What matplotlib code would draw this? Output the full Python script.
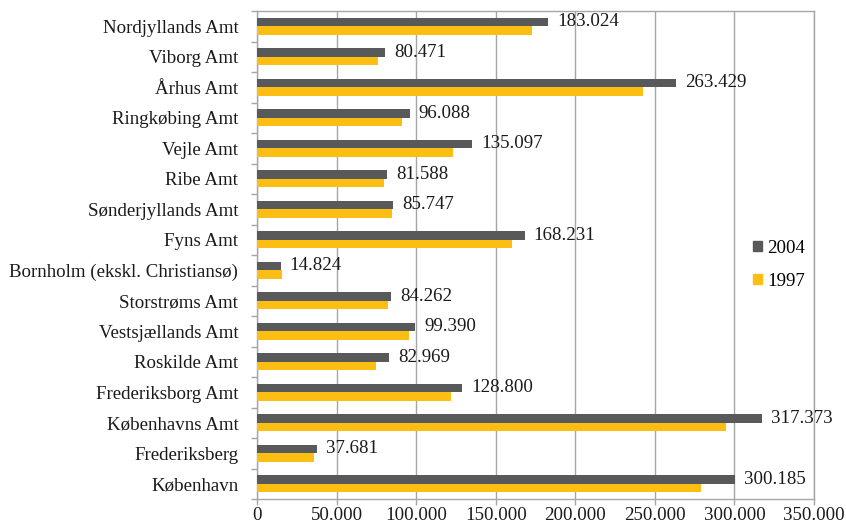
import matplotlib
matplotlib.use("Agg")
import matplotlib.pyplot as plt
from matplotlib.patches import Patch
import numpy as np

categories = ["Nordjyllands Amt", "Viborg Amt", "Århus Amt", "Ringkøbing Amt", "Vejle Amt",
              "Ribe Amt", "Sønderjyllands Amt", "Fyns Amt", "Bornholm (ekskl. Christiansø)",
              "Storstrøms Amt", "Vestsjællands Amt", "Roskilde Amt", "Frederiksborg Amt",
              "Københavns Amt", "Frederiksberg", "København"]
v2004 = [183024, 80471, 263429, 96088, 135097, 81588, 85747, 168231, 14824,
         84262, 99390, 82969, 128800, 317373, 37681, 300185]
v1997 = [172800, 76000, 242700, 91100, 123400, 80000, 84600, 160000, 15500,
         82300, 95300, 75000, 122100, 294500, 36000, 279200]
xticks = [0, 50000, 100000, 150000, 200000, 250000, 300000, 350000]
xticklabels = ["0", "50.000", "100.000", "150.000", "200.000", "250.000", "300.000", "350.000"]
labels2004 = ["183.024", "80.471", "263.429", "96.088", "135.097", "81.588", "85.747", "168.231",
              "14.824", "84.262", "99.390", "82.969", "128.800", "317.373", "37.681", "300.185"]

c2004 = "#58595B"
c1997 = "#FDBE14"
grid_c = "#A6A6A6"
txt_c = "#1a1a1a"
fs = 13.6

plt.rcParams['font.family'] = ['Liberation Serif', 'DejaVu Serif']

fig = plt.figure(figsize=(8.46, 5.24), dpi=100)
ax = fig.add_axes([257/846, 1-499/524, (814-257)/846, (499-11)/524])

n = len(categories)
y = np.arange(n)
h = 0.285
ax.barh(y - h/2, v2004, height=h, color=c2004, zorder=3)
ax.barh(y + h/2, v1997, height=h, color=c1997, zorder=3)

for yi, v, lab in zip(y, v2004, labels2004):
    ax.text(v + 5600, yi - h/2, lab, va='center', ha='left', fontsize=fs, color=txt_c, zorder=4)

ax.set_ylim(n - 0.5, -0.5)
ax.set_xlim(0, 350000)
ax.set_yticks(y)
ax.set_yticklabels(categories, fontsize=fs, color=txt_c)
ax.set_yticks(np.arange(n + 1) - 0.5, minor=True)
ax.tick_params(axis='y', which='major', length=0, pad=13.5)
ax.tick_params(axis='y', which='minor', length=4, color=grid_c, width=1)
ax.set_xticks(xticks)
ax.set_xticklabels(xticklabels, fontsize=fs, color=txt_c)
ax.tick_params(axis='x', length=4, color=grid_c, width=1, pad=1.5)

ax.grid(axis='x', color=grid_c, linewidth=1, zorder=0)
ax.set_axisbelow(True)
for s in ax.spines.values():
    s.set_color(grid_c)
    s.set_linewidth(1)

handles = [Patch(color=c2004, label="2004"), Patch(color=c1997, label="1997")]
fig.legend(handles=handles, loc='center left', bbox_to_anchor=(736/846, 1-265/524),
           frameon=False, fontsize=fs, handlelength=0.45, handleheight=0.45,
           handletextpad=0.3, labelspacing=0.85)

fig.savefig("out.png", dpi=100)
